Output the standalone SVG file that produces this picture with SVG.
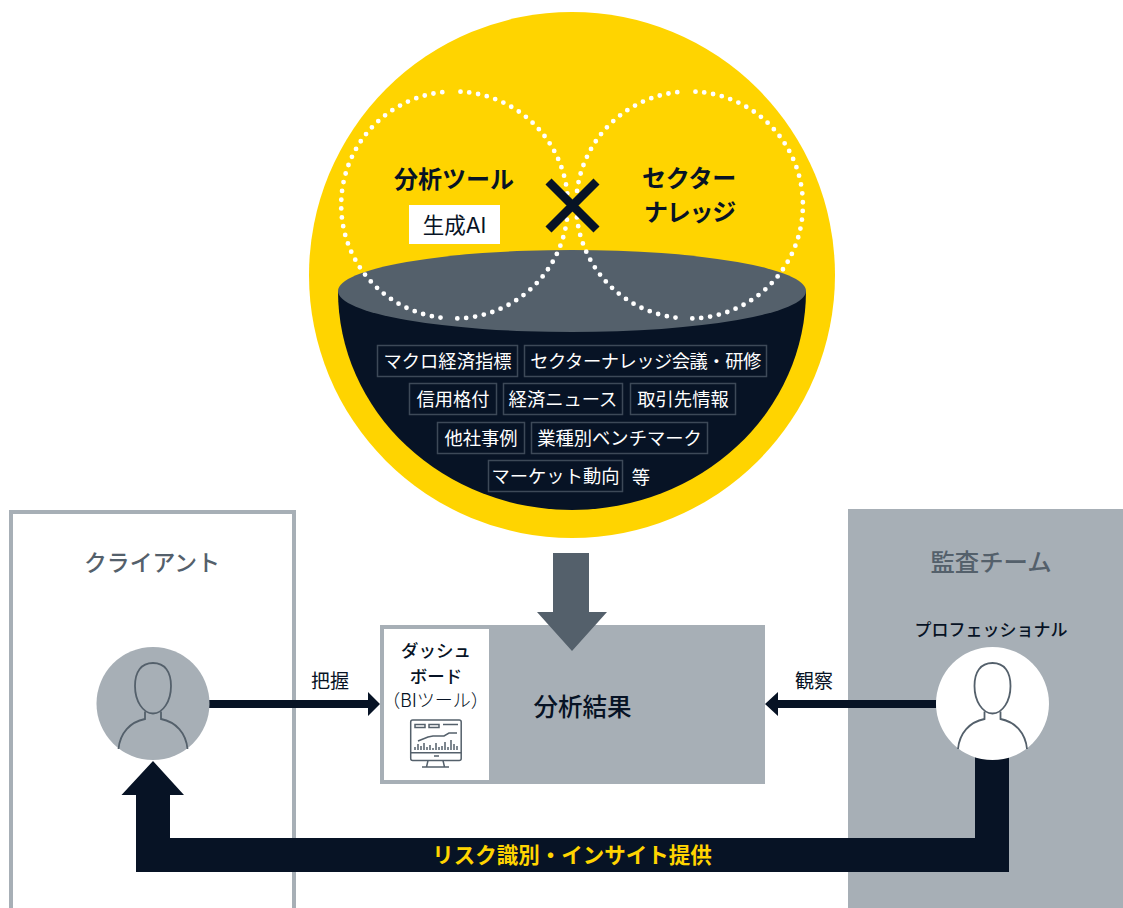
<svg xmlns="http://www.w3.org/2000/svg" xmlns:xlink="http://www.w3.org/1999/xlink" width="1123" height="908" viewBox="0 0 1123 908">
<style>
text{font-family:"Noto Sans CJK JP","Noto Sans",sans-serif;text-anchor:middle;fill:#071325}
.latin{font-family:"Inter","Noto Sans CJK JP",sans-serif}
.tag rect{fill:none;stroke:#3d4958;stroke-width:1.5}
.tag text{fill:#fff;font-size:18.300px}
.dot{fill:none;stroke:#fff;stroke-width:4.800;stroke-linecap:round;stroke-dasharray:0 8.900}
.h1{font-size:24px;font-weight:700}
.team{font-size:24px;font-weight:500;fill:#54606b}
.small{font-size:17.500px;font-weight:500}
.icon{fill:none;stroke:#54606b;stroke-width:1.500}
.p{fill:none;stroke:#54606b;stroke-width:1.800}
</style>
<defs>
<g id="person">
<path class="p" d="M153 663C141 663 135 672 135 686C135 701 143 713.500 153 713.500C163 713.500 171 701 171 686C171 672 165 663 153 663Z"/>
<path class="p" d="M118.500 749C120 733 130 722 145 719V711.500M187.500 749C186 733 176 722 161 719V711.500"/>
</g>
</defs>
<g id="client-panel"><rect x="11" y="512" width="283" height="420" fill="#fff" stroke="#a7afb6" stroke-width="4"/><text class="team" x="152" y="571" style="font-size:22.800px">クライアント</text></g>
<g id="audit-panel"><rect x="848" y="509" width="275" height="399" fill="#a7afb6"/><text class="team" x="991" y="571" style="font-size:24.400px">監査チーム</text><text class="small" x="991" y="636" style="font-size:17px">プロフェッショナル</text></g>
<g id="knowledge">
<circle cx="572" cy="275" r="263" fill="#ffd400"/>
<path d="M338 291A234 219 0 0 0 806 291Z" fill="#071325"/>
<ellipse cx="572" cy="291" rx="234" ry="41" fill="#54606b"/>
<path class="dot" d="M460.500 91.660A113.500 113.500 0 0 1 452.500 318.480"/>
<path class="dot" d="M440.500 317.600A113.500 113.500 0 0 1 448.500 91.660"/>
<path class="dot" d="M695.500 91.660A113.500 113.500 0 0 1 687.500 318.480"/>
<path class="dot" d="M675.500 317.600A113.500 113.500 0 0 1 683.500 91.660"/>
<path d="M548.500 181.500L596.500 229.500M596.500 181.500L548.500 229.500" stroke="#071325" stroke-width="8.500" fill="none"/>
<text class="h1" x="454" y="188">分析ツール</text>
<rect x="409" y="205" width="91" height="39" fill="#fff"/><text class="latin" x="454.500" y="233" font-size="21.500" font-weight="400">生成AI</text>
<text class="h1" x="689" y="187" letter-spacing="-0.300">セクター</text><text class="h1" x="689.500" y="221" letter-spacing="-1.200">ナレッジ</text>
</g>
<g id="tags" class="tag">
<rect x="377.500" y="345.500" width="140" height="31"/><text x="447.500" y="367.500">マクロ経済指標</text>
<rect x="524.500" y="345.500" width="242" height="31"/><text x="645.500" y="367.500" letter-spacing="-0.500">セクターナレッジ会議・研修</text>
<rect x="409.500" y="383.500" width="87" height="31"/><text x="453" y="405.500">信用格付</text>
<rect x="503.500" y="383.500" width="119" height="31"/><text x="563" y="405.500">経済ニュース</text>
<rect x="630.500" y="383.500" width="105" height="31"/><text x="683" y="405.500">取引先情報</text>
<rect x="437.500" y="422.500" width="87" height="31"/><text x="481" y="444.500">他社事例</text>
<rect x="531.500" y="422.500" width="176" height="31"/><text x="619.500" y="444.500">業種別ベンチマーク</text>
<rect x="488.500" y="460.500" width="134" height="31"/><text x="555.500" y="483">マーケット動向</text>
<text x="641" y="484">等</text>
</g>
<g id="results">
<rect x="380" y="625" width="385" height="159" fill="#a7afb6"/>
<rect x="384" y="629" width="105" height="151" fill="#fff"/>
<text x="582.500" y="716" font-size="24.500" font-weight="500">分析結果</text>
<text class="small" x="436" y="657">ダッシュ</text><text class="small" x="436" y="682.500">ボード</text>
<text class="latin" x="435.500" y="707" font-size="18" font-weight="300">（BIツール）</text>
<g class="icon">
<rect x="410.700" y="720" width="50.500" height="40.500" rx="2"/>
<path d="M410.700 752.700H461.200M428 760.500L426.500 767M443 760.500L444.500 767M422 767H449M434 756H439"/>
<path d="M415 724.500H425V727.500H415ZM429 724.500H439V727.500H429ZM443 724.500H458"/>
<path d="M418 741L428 737L433 736H444L449 733H457"/>
<path d="M415 750V747M418 750V744M421 750V746M424 750V743M427 750V747M430 750V745M433 750V748M436 750V743M439 750V747M442 750V746M445 750V742M448 750V747M451 750V740M454 750V744M457 750V746"/>
</g>
</g>
<g id="input-arrow"><path d="M553 553H589V612H607L572 651L537 612H553Z" fill="#54606b"/></g>
<g id="connectors">
<path d="M136 795H121.500L153 761L184 795H170V838H975V750H1009V872H136Z" fill="#071325"/>
<path d="M209 700H368V692L380 704L368 716V708H209Z" fill="#071325"/>
<path d="M936 700H778V692L765 704L778 716V708H936Z" fill="#071325"/>
</g>
<g id="client-person"><circle cx="153" cy="703.500" r="56.500" fill="#a7afb6"/><use xlink:href="#person"/></g>
<g id="pro-person"><circle cx="992.500" cy="703.500" r="56.500" fill="#fff"/><use xlink:href="#person" x="839.500"/></g>
<g id="labels">
<text x="330" y="688" font-size="19" font-weight="400">把握</text>
<text x="814" y="688" font-size="19" font-weight="400">観察</text>
<text x="572" y="863" font-size="21.500" font-weight="700" style="fill:#ffd400">リスク識別・インサイト提供</text>
</g>
</svg>
